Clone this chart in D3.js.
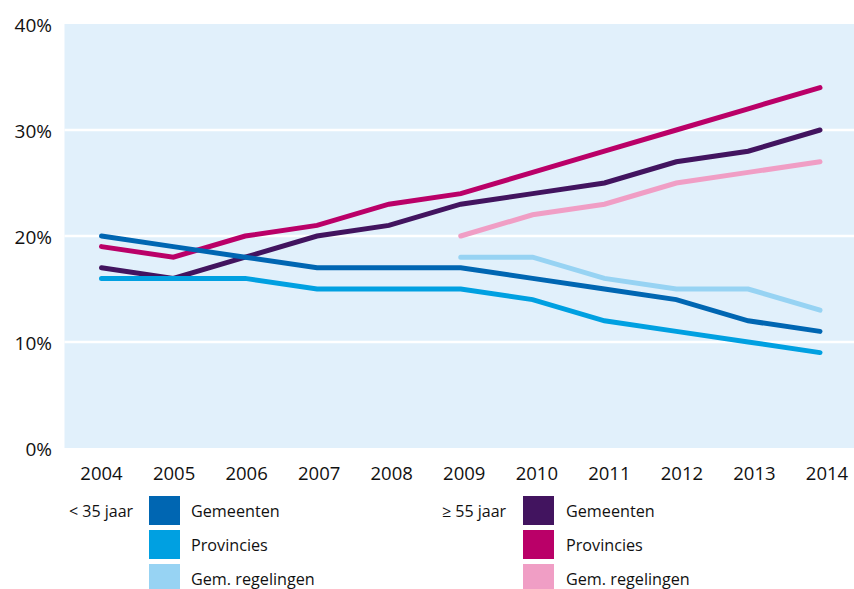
<!DOCTYPE html>
<html><head><meta charset="utf-8">
<script src="https://cdn.jsdelivr.net/npm/d3@7"></script>
<style>
html,body{margin:0;padding:0;background:#fff;}
svg{display:block;font-family:"Open Sans",sans-serif;}
</style></head>
<body>
<svg id="chart" width="854" height="589"></svg>
<script>
const years = [2004,2005,2006,2007,2008,2009,2010,2011,2012,2013,2014];
const yTicks = [0,10,20,30,40];

// < 35 jaar
const jongGemeenten   = [20,19,18,17,17,17,16,15,14,12,11];
const jongProvincies  = [16,16,16,15,15,15,14,12,11,10,9];
const jongGemRegYears = [2009,2010,2011,2012,2013,2014];
const jongGemReg      = [18,18,16,15,15,13];

// >= 55 jaar
const oudGemeenten    = [17,16,18,20,21,23,24,25,27,28,30];
const oudProvincies   = [19,18,20,21,23,24,26,28,30,32,34];
const oudGemRegYears  = [2009,2010,2011,2012,2013,2014];
const oudGemReg       = [20,22,23,25,26,27];

const groupLabels = ["< 35 jaar", "\u2265 55 jaar"];
const seriesNames = ["Gemeenten","Provincies","Gem. regelingen"];
const jongColors = ["#0066B2","#00A0E1","#97D3F3"];
const oudColors  = ["#42145F","#BA0068","#F09EC5"];

const svg = d3.select("#chart");
const x = d3.scaleLinear().domain([2004,2014]).range([101.5,820]);
const xLab = d3.scalePoint().domain(years).range([101,826.5]);
const y = d3.scaleLinear().domain([0,40]).range([448,24]);

// background
svg.append("rect").attr("x",64.5).attr("y",y(40)).attr("width",854-64.5)
  .attr("height",y(0)-y(40)).attr("fill","#E1F0FB");

// gridlines
svg.selectAll("line.grid").data(yTicks.filter(d=>d>0&&d<40)).enter().append("line")
  .attr("x1",64.5).attr("x2",854).attr("y1",d=>y(d)).attr("y2",d=>y(d))
  .attr("stroke","#fff").attr("stroke-width",2.5);

// y axis labels
const yAxis = d3.axisLeft(y).tickValues(yTicks).tickFormat(d=>d+"%").tickSize(0).tickPadding(0);
const yg = svg.append("g").attr("transform","translate(52,0)").call(yAxis);
yg.select(".domain").remove();
yg.selectAll("text").attr("font-family","Open Sans").attr("font-size",19).attr("fill","#111")
  .attr("dy","0.75em").attr("y",-7);

// x axis labels
const xAxis = d3.axisBottom(xLab).tickSize(0).tickPadding(0);
const xg = svg.append("g").attr("transform","translate(0,467)").call(xAxis);
xg.select(".domain").remove();
xg.selectAll("text").attr("font-family","Open Sans").attr("font-size",18.5).attr("fill","#111").attr("dy","0.72em").attr("y",0);

const line = d3.line().x(d=>x(d[0])).y(d=>y(d[1]));
function zipS(yrs, vals){ return yrs.map((yr,i)=>[yr,vals[i]]); }

const series = [
  {data:zipS(years,oudGemeenten), color:oudColors[0]},
  {data:zipS(years,oudProvincies), color:oudColors[1]},
  {data:zipS(oudGemRegYears,oudGemReg), color:oudColors[2]},
  {data:zipS(years,jongGemeenten), color:jongColors[0]},
  {data:zipS(years,jongProvincies), color:jongColors[1]},
  {data:zipS(jongGemRegYears,jongGemReg), color:jongColors[2]}
];
// draw order: older group first, younger on top (as in reference)
const order = [2,0,1,5,4,3];
order.forEach(i=>{
  const s = series[i];
  svg.append("path").attr("d",line(s.data)).attr("fill","none")
    .attr("stroke",s.color).attr("stroke-width",5)
    .attr("stroke-linecap","round").attr("stroke-linejoin","miter");
});

// legend
const legendGroups = [
  {label:groupLabels[0], lx:69, sx:149, tx:191, colors:jongColors},
  {label:groupLabels[1], lx:442, sx:523, tx:566, colors:oudColors}
];
legendGroups.forEach(g=>{
  svg.append("text").attr("x",g.lx).attr("y",511).attr("dominant-baseline","central")
    .attr("font-size",16).attr("fill","#111").text(g.label);
  seriesNames.forEach((n,i)=>{
    const yy = 496 + i*34;
    svg.append("rect").attr("x",g.sx).attr("y",yy).attr("width",31).attr("height",29).attr("fill",g.colors[i]);
    svg.append("text").attr("x",g.tx).attr("y",yy+15).attr("dominant-baseline","central")
      .attr("font-size",16.2).attr("fill","#111").text(n);
  });
});
</script>
</body></html>
